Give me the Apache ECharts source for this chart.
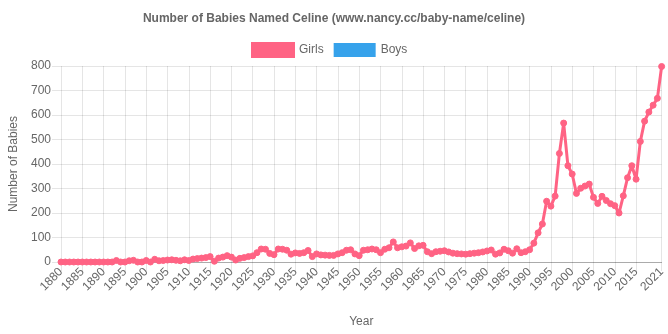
<!DOCTYPE html>
<html>
<head>
<meta charset="utf-8">
<script src="https://cdn.jsdelivr.net/npm/echarts@6/dist/echarts.min.js"></script>
<style>
html,body{margin:0;padding:0;background:#fff;}
#chart{width:668px;height:334px;}
</style>
</head>
<body>
<div id="chart"></div>
<script>
const titleText = "Number of Babies Named Celine (www.nancy.cc/baby-name/celine)";
const seriesNames = ["Girls", "Boys"];
const firstYear = 1880;
const lastYear = 2021;
const years = [];
for (let y = firstYear; y <= lastYear; y++) years.push(String(y));
const tickYears = ["1880","1885","1890","1895","1900","1905","1910","1915","1920","1925","1930","1935","1940","1945","1950","1955","1960","1965","1970","1975","1980","1985","1990","1995","2000","2005","2010","2015","2021"];
const yTicks = [0,100,200,300,400,500,600,700,800];
const girlsValues = [
  0,0,0,0,0,0,0,0,0,0,
  0,0,0,6,0,0,5,7,0,0,
  6,0,11,5,6,8,9,7,5,9,
  6,12,14,16,18,22,3,16,20,26,
  20,8,15,18,22,25,38,53,52,35,
  30,53,52,48,32,37,35,38,47,22,
  33,29,28,27,27,33,38,48,50,33,
  26,48,50,53,50,38,52,58,82,58,
  62,65,78,55,66,68,42,34,42,44,
  46,41,36,34,33,32,34,36,38,41,
  45,49,32,37,52,46,36,54,38,42,
  50,77,119,155,248,228,269,443,567,393,
  359,280,301,310,318,264,239,268,251,238,
  230,200,270,344,393,338,492,575,612,640,
  668,798
];
const boysValues = [];

const FONT = "'Liberation Sans', Arial, Helvetica, sans-serif";
const TXT = "#666";
const GRID = "rgba(0,0,0,0.1)";
const tickSet = new Set(tickYears);
const showTick = (i, v) => tickSet.has(years[i]);

const chart = echarts.init(document.getElementById('chart'), null, {renderer: 'canvas'});
chart.setOption({
  animation: false,
  backgroundColor: '#fff',
  textStyle: {fontFamily: FONT},
  title: {
    text: titleText,
    left: 'center',
    top: 8,
    textStyle: {fontFamily: FONT, fontSize: 12, fontWeight: 'bold', color: TXT}
  },
  legend: {
    top: 37,
    left: 246,
    itemWidth: 42,
    itemHeight: 14,
    itemGap: 10,
    icon: 'rect',
    data: seriesNames,
    textStyle: {fontFamily: FONT, fontSize: 12, color: TXT}
  },
  grid: {left: 59, right: 6, top: 66, bottom: 72, containLabel: false},
  xAxis: {
    type: 'category',
    data: years,
    boundaryGap: false,
    name: 'Year',
    nameLocation: 'middle',
    nameGap: 54,
    nameTextStyle: {fontFamily: FONT, fontSize: 12, color: TXT},
    axisLine: {show: true, lineStyle: {color: 'rgba(0,0,0,0.25)', width: 1}},
    axisTick: {show: true, interval: showTick, length: 9, lineStyle: {color: GRID}},
    axisLabel: {
      interval: showTick,
      rotate: 45,
      margin: 8,
      fontFamily: FONT, fontSize: 12, color: TXT
    },
    splitLine: {show: true, interval: showTick, lineStyle: {color: GRID, width: 1}}
  },
  yAxis: {
    type: 'value',
    min: yTicks[0],
    max: yTicks[yTicks.length - 1],
    interval: 100,
    name: 'Number of Babies',
    nameLocation: 'middle',
    nameRotate: 90,
    nameGap: 41,
    nameTextStyle: {fontFamily: FONT, fontSize: 12, color: TXT},
    axisLine: {show: false},
    axisTick: {show: true, length: 9, lineStyle: {color: GRID}},
    axisLabel: {margin: 10, fontFamily: FONT, fontSize: 12, color: TXT},
    splitLine: {show: true, lineStyle: {color: GRID, width: 1}}
  },
  series: [
    {
      name: seriesNames[0],
      type: 'line',
      data: girlsValues,
      color: '#ff6384',
      lineStyle: {color: '#ff6384', width: 3},
      itemStyle: {color: '#ff6384', borderColor: '#ff6384', borderWidth: 1},
      symbol: 'circle',
      symbolSize: 6,
      showAllSymbol: true,
      z: 3
    },
    {
      name: seriesNames[1],
      type: 'line',
      data: boysValues,
      color: '#36a2eb',
      lineStyle: {color: '#36a2eb', width: 3},
      itemStyle: {color: '#36a2eb'},
      symbol: 'circle',
      symbolSize: 6
    }
  ]
});
</script>
</body>
</html>
